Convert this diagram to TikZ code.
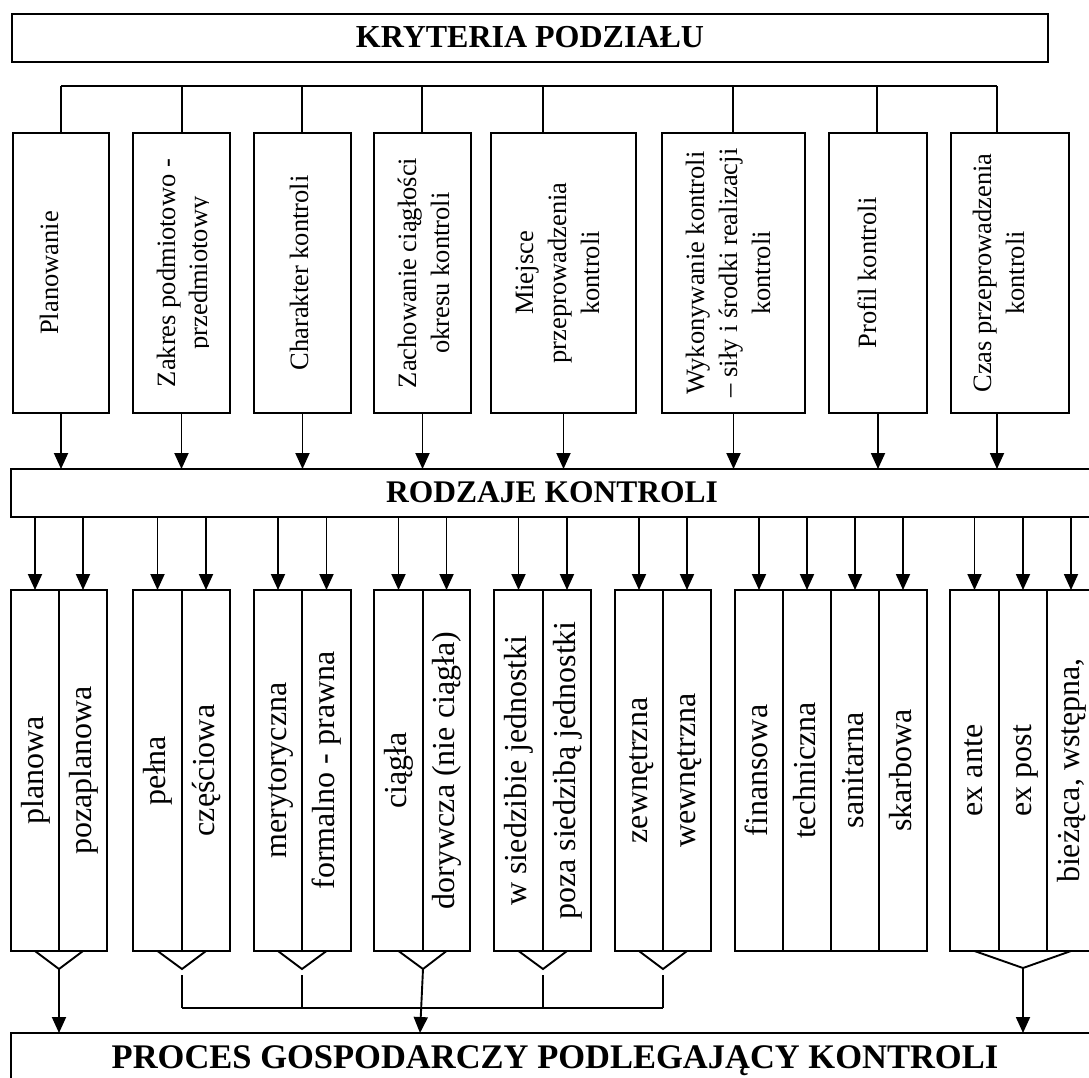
\documentclass[tikz,border=0pt]{standalone}
\usepackage{fontspec}
\setmainfont{Liberation Serif}
\usetikzlibrary{arrows.meta,fit,calc}
\tikzset{
  ln/.style={line width=1.9pt},
  frame/.style={draw, line width=1.9pt, inner sep=0pt, outer sep=0pt},
  arr/.style={line width=1.9pt, -{Triangle[length=16pt,width=14pt]}},
  crit/.style={rotate=90, anchor=base, inner sep=0pt, font=\fontsize{26.5}{32}\selectfont},
  kind/.style={rotate=90, anchor=base, inner sep=0pt, font=\fontsize{32}{38}\selectfont},
  head/.style={anchor=base, inner sep=0pt, font=\bfseries\fontsize{32}{38}\selectfont},
}
\begin{document}
\begin{tikzpicture}[x=1pt,y=-1pt]
\useasboundingbox (0,0) rectangle (1089,1077);
\fill[white] (0,0) rectangle (1089,1077);
\clip (0,0) rectangle (1089,1077);

% top header
\node[frame, fit={(12,14)(1048,62)}] (kr) {};
\node[head] (krt) at (530,47) {KRYTERIA PODZIAŁU};

% criteria boxes
\node[frame, fit={(13,133)(109,413)}] (c1) {};
\node[frame, fit={(133,133)(230,413)}] (c2) {};
\node[frame, fit={(254,133)(351,413)}] (c3) {};
\node[frame, fit={(374,133)(471,413)}] (c4) {};
\node[frame, fit={(491,133)(636,413)}] (c5) {};
\node[frame, fit={(662,133)(805,413)}] (c6) {};
\node[frame, fit={(829,133)(927,413)}] (c7) {};
\node[frame, fit={(951,133)(1069,413)}] (c8) {};

\node[crit] (c1t) at (58,273) {Planowanie};
\node[crit] (c2t1) at (175,273) {Zakres podmiotowo -};
\begin{scope}
  \clip (133,133) rectangle (208.5,413);
  \node[crit] (c2t2) at (207,273) {przedmiotowy};
\end{scope}
\node[crit] (c3t) at (308,273) {Charakter kontroli};
\node[crit] (c4t1) at (416,273) {Zachowanie ciągłości};
\node[crit] (c4t2) at (449,273) {okresu kontroli};
\node[crit] (c5t1) at (533,273) {Miejsce};
\node[crit] (c5t2) at (566,273) {przeprowadzenia};
\node[crit] (c5t3) at (599,273) {kontroli};
\node[crit] (c6t1) at (704,273) {Wykonywanie kontroli};
\node[crit] (c6t2) at (737,273) {– siły i środki realizacji};
\node[crit] (c6t3) at (770,273) {kontroli};
\node[crit] (c7t) at (876,273) {Profil kontroli};
\node[crit] (c8t1) at (991,273) {Czas przeprowadzenia};
\node[crit] (c8t2) at (1024,273) {kontroli};

% bus over criteria
\coordinate (t1) at (61,86);
\coordinate (t2) at (182,86);
\coordinate (t3) at (302,86);
\coordinate (t4) at (422,86);
\coordinate (t5) at (543,86);
\coordinate (t6) at (733,86);
\coordinate (t7) at (877,86);
\coordinate (t8) at (997,86);
\draw[ln] (t1) -- (t8);
\foreach \i in {1,...,8} { \draw[ln] (t\i) -- (t\i |- c\i.north); }

% RODZAJE
\node[frame, fit={(11,469)(1095,517)}] (rk) {};
\node[head, font=\bfseries\fontsize{31.5}{38}\selectfont] (rkt) at (552,502) {RODZAJE KONTROLI};

\foreach \i in {1,...,7} { \draw[arr] (c\i.south) -- (c\i.south |- rk.north); }
\draw[arr] (t8 |- c8.south) -- (t8 |- rk.north);

% lower columns
\foreach \n/\a/\b/\t in {
  g1a/11/59/planowa, g1b/59/107/pozaplanowa,
  g2a/133/182/pełna, g2b/182/230/częściowa,
  g3a/254/302/merytoryczna, g3b/302/351/formalno - prawna,
  g4a/374/423/ciągła, g4b/423/470/dorywcza (nie ciągła),
  g5a/494/543/w siedzibie jednostki, g5b/543/591/poza siedzibą jednostki,
  g6a/615/663/zewnętrzna, g6b/663/711/wewnętrzna,
  g7a/735/783/finansowa, g7b/783/831/techniczna, g7c/831/879/sanitarna, g7d/879/927/skarbowa,
  g8a/950/999/ex ante, g8b/999/1047/ex post, g8c/1047/1095/{bieżąca, wstępna,}}
{
  \node[frame, fit={(\a,590)(\b,951)}] (\n) {};
  \node[kind] (\n t) at ($(\n.center)+(8,0)$) {\t};
  \draw[arr] (\n.north |- rk.south) -- (\n.north);
}

% PROCES
\node[frame, fit={(11,1033)(1099,1110)}] (pr) {};
\node[head, font=\bfseries\fontsize{34.5}{40}\selectfont] (prt) at (555,1068) {PROCES GOSPODARCZY PODLEGAJĄCY KONTROLI};

% merge triangles
\coordinate (a1) at (59,969);
\coordinate (a2) at (182,969);
\coordinate (a3) at (302,969);
\coordinate (a4) at (423,969);
\coordinate (a5) at (543,969);
\coordinate (a6) at (663,969);
\coordinate (a8) at (1023,968);
\foreach \k in {1,...,6} { \draw[ln] (g\k a.south) -- (a\k) -- (g\k b.south); }
\draw[ln] (g8a.south) -- (a8) -- (g8c.south);

% outputs
\coordinate (bus) at (0,1008);
\foreach \k in {2,3,5,6} { \draw[ln] ($(a\k)+(0,6)$) -- (a\k |- bus); }
\draw[ln] (a2 |- bus) -- (a6 |- bus);
\draw[arr] (a1) -- (a1 |- pr.north);
\draw[arr] (a4) -- ($(a4 |- pr.north)+(-3,0)$);
\draw[arr] (a8) -- (a8 |- pr.north);
\end{tikzpicture}
\end{document}
